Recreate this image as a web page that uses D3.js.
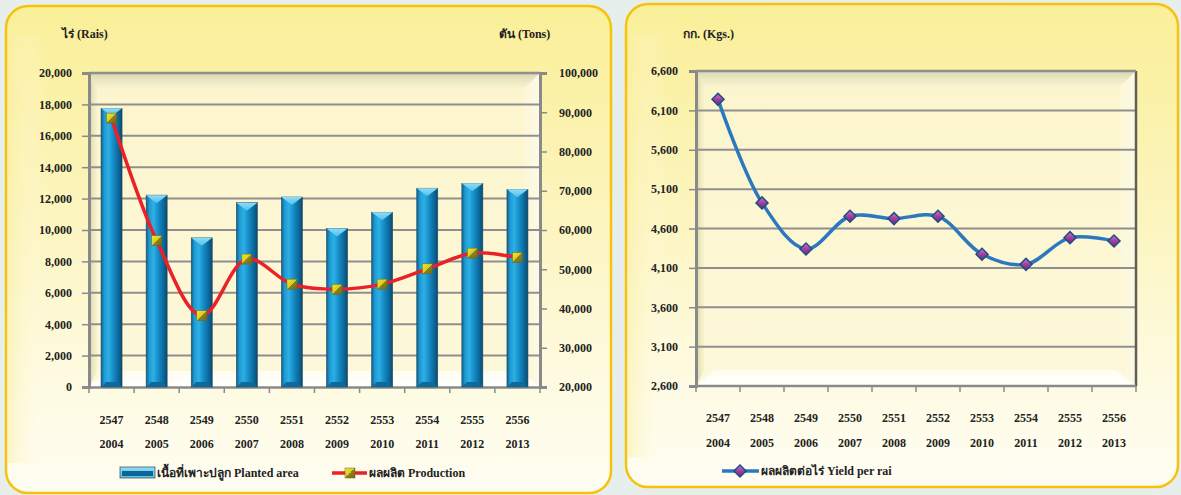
<!DOCTYPE html>
<html><head><meta charset="utf-8">
<script src="https://cdn.jsdelivr.net/npm/d3@7"></script>
<style>
html,body{margin:0;padding:0;background:#e7efed;}
svg{display:block;}
svg text{font-family:"Liberation Serif","Times New Roman","DejaVu Serif",serif !important;font-weight:bold;fill:#222;}
</style></head>
<body>
<script>
// ---------- data ----------
const yearsThai = ["2547","2548","2549","2550","2551","2552","2553","2554","2555","2556"];
const yearsAD   = ["2004","2005","2006","2007","2008","2009","2010","2011","2012","2013"];
const plantedArea = [17750,12220,9500,11740,12100,10100,11130,12660,12970,12590];
const production  = [88500,57300,38200,52600,46200,44900,46200,50100,54100,53000];
const yieldPerRai = [6240,4925,4340,4755,4726,4755,4273,4145,4484,4441];
const areaTicks  = [0,2000,4000,6000,8000,10000,12000,14000,16000,18000,20000];
const prodTicks  = [20000,30000,40000,50000,60000,70000,80000,90000,100000];
const yieldTicks = [2600,3100,3600,4100,4600,5100,5600,6100,6600];
const labels = {
  areaUnit:"ไร่ (Rais)", prodUnit:"ตัน (Tons)", yieldUnit:"กก. (Kgs.)",
  areaLegend:"เนื้อที่เพาะปลูก Planted area", prodLegend:"ผลผลิต Production",
  yieldLegend:"ผลผลิตต่อไร่ Yield per rai"
};

const W=1181,H=495;
const svg=d3.select("body").append("svg").attr("width",W).attr("height",H);
const defs=svg.append("defs");
function lin(id,x1,y1,x2,y2,stops){
  const g=defs.append("linearGradient").attr("id",id).attr("x1",x1).attr("y1",y1).attr("x2",x2).attr("y2",y2);
  stops.forEach(s=>g.append("stop").attr("offset",s[0]).attr("stop-color",s[1]));
}
lin("panelG",0,0,0,1,[["0","#faef98"],["0.45","#fcf5c0"],["0.8","#fefbe4"],["1","#fffdf2"]]);
lin("panelEdgeL",0,0,1,0,[["0","#fbeea0"],["1","rgba(255,255,255,0)"]]);
lin("wallG",0,0,0,1,[["0","#fcf5cc"],["1","#fdf8da"]]);
lin("topBev",0,0,0,1,[["0","#d9d6b0"],["0.5","#ece8c2"],["1","#fbf5d2"]]);
lin("leftBev",0,0,1,0,[["0","#d6d3a6"],["0.5","#ebe8bf"],["1","#f8f2cc"]]);
lin("rightBev",0,0,1,0,[["0","#fcf7d8"],["1","#fdfae6"]]);
lin("floorG",0,0,0,1,[["0","#fffdf0"],["1","#ffffff"]]);
lin("barG",0,0,1,0,[["0","#0b5f8e"],["0.15","#1f9ad3"],["0.35","#2cb0e6"],["0.6","#1489c4"],["0.85","#0b6596"],["1","#084a70"]]);
lin("capG",0,0,0,1,[["0","#8fdcf8"],["1","#4fbfeb"]]);
lin("mkSq",0,0,1,1,[["0","#f2ea30"],["0.5","#d6cc22"],["0.5","#8f8420"],["1","#6f6818"]]);
lin("mkDia",0,0,1,1,[["0","#d27ad0"],["0.5","#a0409e"],["1","#6e2a78"]]);

function panel(x,y,w,h){
  svg.append("rect").attr("x",x).attr("y",y).attr("width",w).attr("height",h).attr("rx",22)
    .attr("fill","url(#panelG)").attr("stroke","#f6c20e").attr("stroke-width",2.5);
  svg.append("rect").attr("x",x+2).attr("y",y+30).attr("width",40).attr("height",h-60)
    .attr("fill","url(#panelEdgeL)").attr("opacity",0.5);
}
panel(6,6,605,487);
panel(626,4,552,483);

function plotFrame(g,x0,x1,yT,yB){
  const d=8, fl=16;
  g.append("rect").attr("x",x0).attr("y",yT).attr("width",x1-x0).attr("height",yB-yT).attr("fill","url(#wallG)");
  g.append("path").attr("d",`M${x0},${yT}L${x1},${yT}L${x1-d*2},${yT+d*2}L${x0+d},${yT+d*2}Z`).attr("fill","url(#topBev)");
  g.append("path").attr("d",`M${x0},${yT}L${x0+d},${yT+d*2}L${x0+d},${yB-fl}L${x0},${yB}Z`).attr("fill","url(#leftBev)");
  g.append("path").attr("d",`M${x1},${yT}L${x1-d*2},${yT+d*2}L${x1-d*2},${yB-fl}L${x1},${yB}Z`).attr("fill","url(#rightBev)");
  g.append("path").attr("d",`M${x0},${yB}L${x0+d+10},${yB-fl}L${x1-d*2-4},${yB-fl}L${x1},${yB}Z`).attr("fill","url(#floorG)");
}
function styleAxis(ax){
  ax.attr("font-family",null).attr("font-size",null);
  ax.select(".domain").attr("stroke","#8a8a8a").attr("stroke-width",3);
  ax.selectAll(".tick line").attr("stroke","#8a8a8a").attr("stroke-width",1.5);
  ax.selectAll("text").attr("font-size",12).attr("fill","#222");
}

// ================= LEFT CHART =================
{
  const x0=89,x1=540,yT=73,yB=387;
  const g=svg.append("g");
  plotFrame(g,x0,x1,yT,yB);
  const x=d3.scaleBand().domain(yearsThai).range([x0,x1]);
  const yL=d3.scaleLinear().domain([0,20000]).range([yB,yT]);
  const yR=d3.scaleLinear().domain([20000,100000]).range([yB,yT]);
  g.append("g").selectAll("line").data(areaTicks.slice(1)).join("line")
    .attr("x1",x0).attr("x2",x1).attr("y1",d=>yL(d)).attr("y2",d=>yL(d))
    .attr("stroke","#8f8f8f").attr("stroke-width",2);
  styleAxis(g.append("g").attr("transform",`translate(${x0},0)`)
    .call(d3.axisLeft(yL).tickValues(areaTicks).tickFormat(d3.format(",")).tickSize(7).tickPadding(10)));
  styleAxis(g.append("g").attr("transform",`translate(${x1},0)`)
    .call(d3.axisRight(yR).tickValues(prodTicks).tickFormat(d3.format(",")).tickSize(7).tickPadding(12)));
  const axB=g.append("g").attr("transform",`translate(0,${yB})`)
    .call(d3.axisBottom(x).tickValues([]).tickSize(0));
  axB.select(".domain").attr("stroke","#8a8a8a").attr("stroke-width",2.5);
  g.append("g").selectAll("line").data(d3.range(yearsThai.length+1)).join("line")
    .attr("x1",i=>x0+i*x.step()).attr("x2",i=>x0+i*x.step()).attr("y1",yB).attr("y2",yB+6)
    .attr("stroke","#8a8a8a").attr("stroke-width",1.5);
  g.append("line").attr("x1",x0).attr("x2",x1).attr("y1",yT).attr("y2",yT).attr("stroke","#8f8f8f").attr("stroke-width",2.5);

  const bw=21;
  const bars=g.append("g").selectAll("g").data(plantedArea).join("g");
  bars.append("rect").attr("x",(d,i)=>x(yearsThai[i])+x.bandwidth()/2-bw/2).attr("y",d=>yL(d))
    .attr("width",bw).attr("height",d=>yB-yL(d)).attr("fill","url(#barG)").attr("stroke","#2e4a5a").attr("stroke-width",0.6);
  bars.append("path").attr("d",(d,i)=>{const cx=x(yearsThai[i])+x.bandwidth()/2,t=yL(d);
      return `M${cx-bw/2},${t}L${cx+bw/2},${t}L${cx},${t+8}Z`;}).attr("fill","url(#capG)");
  bars.append("path").attr("d",(d,i)=>{const cx=x(yearsThai[i])+x.bandwidth()/2;
      return `M${cx-bw/2},${yB}L${cx-bw/2+5},${yB-5}L${cx+bw/2-5},${yB-5}L${cx+bw/2},${yB}Z`;}).attr("fill","#0e6a9c");

  const line=d3.line().x((d,i)=>x(yearsThai[i])+x.bandwidth()/2).y(d=>yR(d)).curve(d3.curveCatmullRom.alpha(0.5));
  g.append("path").datum(production).attr("d",line).attr("fill","none").attr("stroke","#ea2127").attr("stroke-width",3.5);
  g.append("g").selectAll("rect").data(production).join("rect")
    .attr("x",(d,i)=>x(yearsThai[i])+x.bandwidth()/2-5).attr("y",d=>yR(d)-5)
    .attr("width",10).attr("height",10).attr("fill","url(#mkSq)").attr("stroke","#6b6515").attr("stroke-width",0.5);

  const xl=g.append("g");
  xl.selectAll(".r1").data(yearsThai).join("text").attr("x",d=>x(d)+x.bandwidth()/2).attr("y",424)
    .attr("text-anchor","middle").attr("font-size",12).text(d=>d);
  xl.selectAll(".r2").data(yearsAD).join("text").attr("x",(d,i)=>x(yearsThai[i])+x.bandwidth()/2).attr("y",448)
    .attr("text-anchor","middle").attr("font-size",12).text(d=>d);
  g.append("text").attr("x",62).attr("y",38).attr("font-size",12).text(labels.areaUnit);
  g.append("text").attr("x",499).attr("y",38).attr("font-size",12).text(labels.prodUnit);
  const lg=g.append("g");
  lg.append("rect").attr("x",120).attr("y",467).attr("width",35).attr("height",11).attr("fill","url(#capG)").attr("stroke","#555").attr("stroke-width",0.8);
  lg.append("rect").attr("x",122).attr("y",471).attr("width",31).attr("height",5).attr("fill","#0b6596");
  lg.append("text").attr("x",157).attr("y",477).attr("font-size",12).text(labels.areaLegend);
  lg.append("line").attr("x1",332).attr("x2",367).attr("y1",473).attr("y2",473).attr("stroke","#ea2127").attr("stroke-width",3.5);
  lg.append("rect").attr("x",345).attr("y",468).attr("width",10).attr("height",10).attr("fill","url(#mkSq)").attr("stroke","#6b6515").attr("stroke-width",0.5);
  lg.append("text").attr("x",369).attr("y",477).attr("font-size",12).text(labels.prodLegend);
}

// ================= RIGHT CHART =================
{
  const x0=696,x1=1136,yT=71,yB=386;
  const g=svg.append("g");
  plotFrame(g,x0,x1,yT,yB);
  const x=d3.scaleBand().domain(yearsThai).range([x0,x1]);
  const y=d3.scaleLinear().domain([2600,6600]).range([yB,yT]);
  g.append("g").selectAll("line").data(yieldTicks.slice(1)).join("line")
    .attr("x1",x0).attr("x2",x1).attr("y1",d=>y(d)).attr("y2",d=>y(d))
    .attr("stroke","#8f8f8f").attr("stroke-width",2);
  styleAxis(g.append("g").attr("transform",`translate(${x0},0)`)
    .call(d3.axisLeft(y).tickValues(yieldTicks).tickFormat(d3.format(",")).tickSize(7).tickPadding(11)));
  g.append("line").attr("x1",x1).attr("x2",x1).attr("y1",yT).attr("y2",yB).attr("stroke","#5f5f58").attr("stroke-width",2.5);
  g.append("line").attr("x1",x0).attr("x2",x1).attr("y1",yT).attr("y2",yT).attr("stroke","#8f8f8f").attr("stroke-width",2.5);
  g.append("line").attr("x1",x0).attr("x2",x1).attr("y1",yB).attr("y2",yB).attr("stroke","#8a8a8a").attr("stroke-width",2.5);
  g.append("g").selectAll("line").data(d3.range(yearsThai.length+1)).join("line")
    .attr("x1",i=>x0+i*x.step()).attr("x2",i=>x0+i*x.step()).attr("y1",yB).attr("y2",yB+6)
    .attr("stroke","#8a8a8a").attr("stroke-width",1.5);

  const line=d3.line().x((d,i)=>x(yearsThai[i])+x.bandwidth()/2).y(d=>y(d)).curve(d3.curveCatmullRom.alpha(0.5));
  g.append("path").datum(yieldPerRai).attr("d",line).attr("fill","none").attr("stroke","#2a78bf").attr("stroke-width",3.5);
  const dia=d3.symbol().type(d3.symbolSquare).size(72);
  g.append("g").selectAll("path").data(yieldPerRai).join("path")
    .attr("transform",(d,i)=>`translate(${x(yearsThai[i])+x.bandwidth()/2},${y(d)}) rotate(45)`)
    .attr("d",dia).attr("fill","url(#mkDia)").attr("stroke","#1d4f86").attr("stroke-width",1.5);

  const xl=g.append("g");
  xl.selectAll(".r1").data(yearsThai).join("text").attr("x",d=>x(d)+x.bandwidth()/2).attr("y",422)
    .attr("text-anchor","middle").attr("font-size",12).text(d=>d);
  xl.selectAll(".r2").data(yearsAD).join("text").attr("x",(d,i)=>x(yearsThai[i])+x.bandwidth()/2).attr("y",447)
    .attr("text-anchor","middle").attr("font-size",12).text(d=>d);
  g.append("text").attr("x",683).attr("y",38).attr("font-size",12).text(labels.yieldUnit);
  const lg=g.append("g");
  lg.append("line").attr("x1",722).attr("x2",759).attr("y1",471).attr("y2",471).attr("stroke","#2a78bf").attr("stroke-width",3.5);
  lg.append("path").attr("transform","translate(740,471) rotate(45)").attr("d",dia).attr("fill","url(#mkDia)").attr("stroke","#1d4f86").attr("stroke-width",1.5);
  lg.append("text").attr("x",761).attr("y",475).attr("font-size",12).text(labels.yieldLegend);
}
</script>
</body></html>
